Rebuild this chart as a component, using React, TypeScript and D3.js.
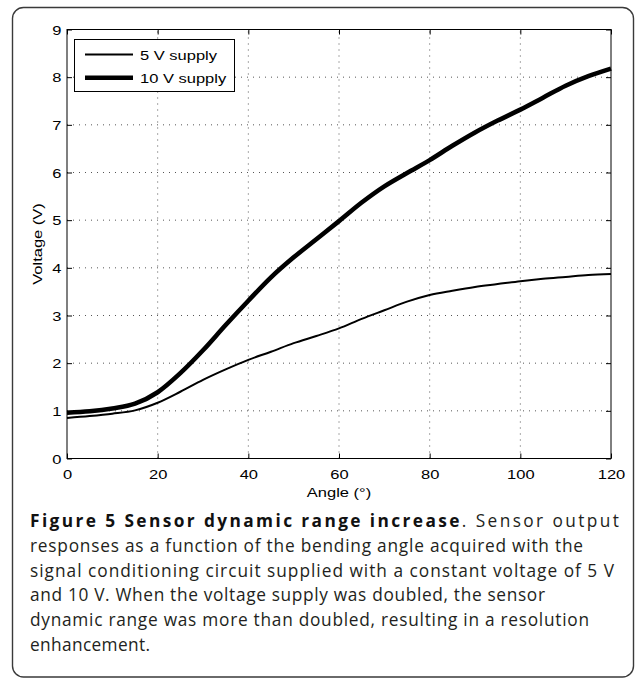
import * as d3 from "d3";
import { useEffect, useRef } from "react";

// bending angle (deg) and sensor output (V)
const angles = [0, 5, 10, 15, 20, 25, 30, 35, 40, 45, 50, 55, 60, 65, 70, 75, 80, 85, 90, 95, 100, 105, 110, 115, 120];
const volt5 = [0.85, 0.89, 0.94, 1.01, 1.17, 1.4, 1.65, 1.87, 2.07, 2.24, 2.42, 2.57, 2.73, 2.93, 3.11, 3.29, 3.43, 3.52, 3.6, 3.66, 3.72, 3.77, 3.81, 3.85, 3.87];
const volt10 = [0.96, 0.99, 1.05, 1.15, 1.39, 1.79, 2.27, 2.8, 3.31, 3.8, 4.22, 4.6, 4.98, 5.37, 5.71, 5.99, 6.26, 6.56, 6.84, 7.09, 7.32, 7.57, 7.82, 8.02, 8.18];
const seriesNames = ["5 V supply", "10 V supply"];
const xTicks = [0, 20, 40, 60, 80, 100, 120];
const yTicks = [0, 1, 2, 3, 4, 5, 6, 7, 8, 9];

const captionBold = "Figure 5 Sensor dynamic range increase";
const captionLines = [
  ". Sensor output",
  "responses as a function of the bending angle acquired with the",
  "signal conditioning circuit supplied with a constant voltage of 5 V",
  "and 10 V. When the voltage supply was doubled, the sensor",
  "dynamic range was more than doubled, resulting in a resolution",
  "enhancement.",
];
// right end of each caption line in the layout
const captionEnds = [619, 583, 614, 545, 589, 150];

const W = 635;
const H = 679;
const m = { left: 67, right: 611, top: 29.5, bottom: 458.5 };
const FONT = "'Liberation Sans', Arial, sans-serif";
const SX = 1.27; // the plot's fonts are drawn wide

const App = () => {
  const svgRef = useRef<SVGSVGElement | null>(null);

  useEffect(() => {
    if (!svgRef.current) return;
    const svg = d3.select(svgRef.current);
    svg.selectAll("*").remove();

    // figure frame
    svg.append("rect")
      .attr("x", 12.5).attr("y", 7.5)
      .attr("width", 621).attr("height", 669.5)
      .attr("rx", 11).attr("ry", 11)
      .attr("fill", "white")
      .attr("stroke", "#3a3a3a")
      .attr("stroke-width", 1.4);

    const x = d3.scaleLinear().domain([0, 120]).range([m.left, m.right]);
    const y = d3.scaleLinear().domain([0, 9]).range([m.bottom, m.top]);

    // dotted grid
    const grid = svg.append("g")
      .attr("stroke", "#555")
      .attr("stroke-width", 1)
      .attr("stroke-dasharray", "1,5");
    grid.selectAll(".gx").data(xTicks.slice(1, -1)).enter().append("line")
      .attr("x1", d => x(d)).attr("x2", d => x(d))
      .attr("y1", m.bottom).attr("y2", m.top);
    grid.selectAll(".gy").data(yTicks.slice(1, -1)).enter().append("line")
      .attr("x1", m.left).attr("x2", m.right)
      .attr("y1", d => y(d)).attr("y2", d => y(d));

    // axes, ticks pointing inwards
    const styleAxis = (g: any) => {
      g.select(".domain").remove();
      g.selectAll(".tick line").attr("stroke", "#000");
      g.selectAll("text")
        .attr("font-family", FONT)
        .attr("font-size", 13)
        .attr("fill", "#000");
    };

    const xAxis = svg.append("g")
      .attr("transform", `translate(0,${m.bottom})`)
      .call(d3.axisBottom(x).tickValues(xTicks).tickSizeInner(-5).tickSizeOuter(0).tickPadding(0).tickFormat(d3.format("d")));
    styleAxis(xAxis);
    xAxis.selectAll("text").attr("dy", null).attr("y", 20.5).attr("transform", `scale(${SX},1)`);

    const xTop = svg.append("g")
      .attr("transform", `translate(0,${m.top})`)
      .call(d3.axisTop(x).tickValues(xTicks).tickSizeInner(-5).tickSizeOuter(0).tickFormat(() => ""));
    styleAxis(xTop);

    const yAxis = svg.append("g")
      .attr("transform", `translate(${m.left},0)`)
      .call(d3.axisLeft(y).tickValues(yTicks).tickSizeInner(-5).tickSizeOuter(0).tickPadding(0).tickFormat(d3.format("d")));
    styleAxis(yAxis);
    yAxis.selectAll("text").attr("dy", null).attr("y", 4.6).attr("x", -5.5 / SX).attr("transform", `scale(${SX},1)`);

    const yRight = svg.append("g")
      .attr("transform", `translate(${m.right},0)`)
      .call(d3.axisRight(y).tickValues(yTicks).tickSizeInner(-5).tickSizeOuter(0).tickFormat(() => ""));
    styleAxis(yRight);

    // plot box
    svg.append("rect")
      .attr("x", m.left).attr("y", m.top)
      .attr("width", m.right - m.left).attr("height", m.bottom - m.top)
      .attr("fill", "none").attr("stroke", "#000").attr("stroke-width", 1);

    // curves
    const line = d3.line<number>()
      .x((_, i) => x(angles[i]))
      .y(d => y(d))
      .curve(d3.curveMonotoneX);

    svg.append("path").datum(volt5)
      .attr("d", line).attr("fill", "none")
      .attr("stroke", "#000").attr("stroke-width", 2);
    svg.append("path").datum(volt10)
      .attr("d", line).attr("fill", "none")
      .attr("stroke", "#000").attr("stroke-width", 4.6)
      .attr("stroke-linejoin", "round");

    // axis titles
    svg.append("text")
      .attr("transform", `translate(339,497) scale(${SX},1)`)
      .attr("text-anchor", "middle")
      .attr("font-family", FONT).attr("font-size", 13)
      .text("Angle (°)");
    svg.append("text")
      .attr("transform", `translate(42,244) rotate(-90) scale(${SX},1)`)
      .attr("text-anchor", "middle")
      .attr("font-family", FONT).attr("font-size", 13)
      .text("Voltage (V)");

    // legend
    const legend = svg.append("g");
    legend.append("rect")
      .attr("x", 74.5).attr("y", 39.5)
      .attr("width", 160).attr("height", 52)
      .attr("fill", "white").attr("stroke", "#000").attr("stroke-width", 1);
    const rowY = [54.5, 77.7];
    const widths = [2, 4.6];
    seriesNames.forEach((name, i) => {
      legend.append("line")
        .attr("x1", 85).attr("x2", 133)
        .attr("y1", rowY[i]).attr("y2", rowY[i])
        .attr("stroke", "#000").attr("stroke-width", widths[i]);
      legend.append("text")
        .attr("transform", `translate(140,${rowY[i] + 5.3}) scale(${SX},1)`)
        .attr("font-family", FONT).attr("font-size", 13)
        .text(name);
    });

    // caption
    const cap = svg.append("g")
      .attr("font-family", "'Open Sans', sans-serif")
      .attr("font-size", 17.3)
      .attr("fill", "#231f20");
    captionLines.forEach((txt, i) => {
      const t = cap.append("text")
        .attr("x", 30)
        .attr("y", 527 + i * 24.8)
        .attr("textLength", captionEnds[i] - 30)
        .attr("lengthAdjust", "spacing");
      if (i === 0) {
        t.append("tspan").attr("font-weight", "bold").attr("fill", "#111").text(captionBold);
      }
      t.append("tspan").text(txt);
    });
  }, []);

  return (
    <svg
      ref={svgRef}
      width={W}
      height={H}
      viewBox={`0 0 ${W} ${H}`}
      style={{ position: "absolute", left: 0, top: 0, background: "white" }}
    />
  );
};

export default App;
